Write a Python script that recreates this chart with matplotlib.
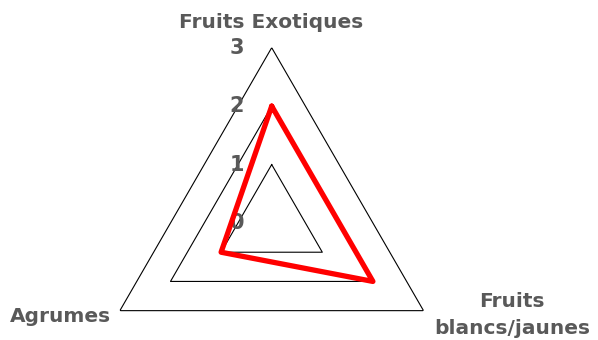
import numpy as np
import matplotlib
matplotlib.use("Agg")
import matplotlib.pyplot as plt

categories = ["Fruits Exotiques", "Fruits\nblancs/jaunes", "Agrumes"]
values = [2, 2, 1]
grid_levels = [1, 2, 3]
tick_labels = ["0", "1", "2", "3"]

grey = "#595959"
W, H = 598, 340
fig = plt.figure(figsize=(W / 100, H / 100), dpi=100)
cx, cy, R = 271.7, 223.0, 175.3
ax = fig.add_axes([(cx - R) / W, (H - cy - R) / H, 2 * R / W, 2 * R / H],
                  projection="polar")
ax.set_theta_zero_location("N")
ax.set_theta_direction(-1)
ax.set_ylim(0, 3)
ax.grid(False)
ax.spines["polar"].set_visible(False)
ax.set_xticks([])
ax.set_yticks([])
ax.patch.set_alpha(0)

n = len(categories)
theta = np.linspace(0, 2 * np.pi, n, endpoint=False)
theta_c = np.append(theta, theta[0])

for lv in grid_levels:
    ax.plot(theta_c, [lv] * (n + 1), color="black", lw=0.8, zorder=1)

vals = values + values[:1]
ax.plot(theta_c, vals, color="#ff0000", lw=3.8, solid_joinstyle="round",
        solid_capstyle="round", zorder=3)

for i, t in enumerate(tick_labels):
    ax.annotate(t, xy=(0, i), xytext=(-25, 0), textcoords="offset points",
                ha="center", va="center", fontsize=15, fontweight="bold",
                color=grey, zorder=2)

fs = 14.5
fig.text(271 / W, 1 - 22 / H, categories[0], ha="center", va="center",
         fontsize=fs, fontweight="bold", color=grey)
fig.text(512 / W, 1 - 315 / H, categories[1], ha="center", va="center",
         fontsize=fs, fontweight="bold", color=grey, linespacing=1.5)
fig.text(60 / W, 1 - 316 / H, categories[2], ha="center", va="center",
         fontsize=fs, fontweight="bold", color=grey)

fig.savefig("out.png", dpi=100)
